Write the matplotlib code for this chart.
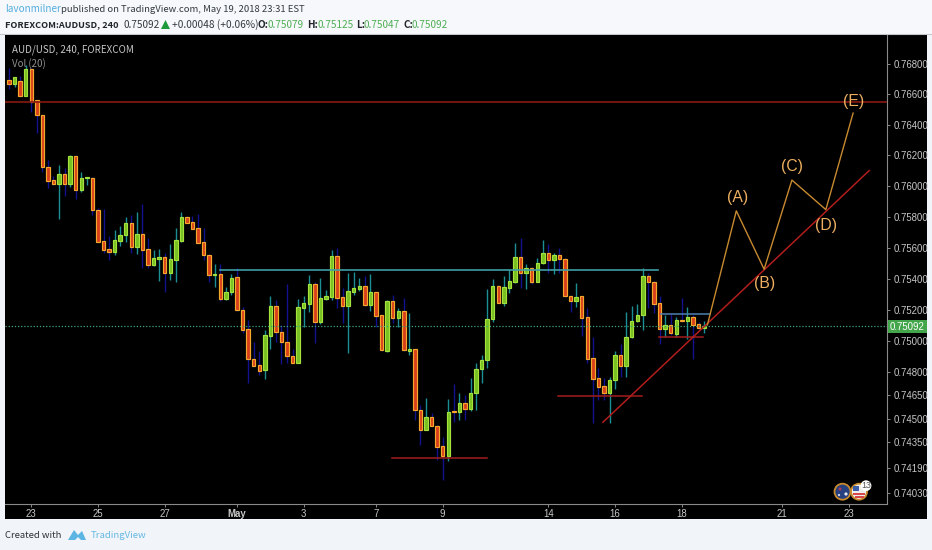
import matplotlib
matplotlib.use("Agg")
import matplotlib.pyplot as plt
from matplotlib.patches import Rectangle, Circle, Polygon
from matplotlib.ticker import FixedLocator, FixedFormatter, NullLocator

W, H = 932, 550

opens = [.76690,.76668,.76685,.76588,.76763,.76558,.76462,.76122,.76038,.76012,.76080,.76012,.76192,.75972,.76050,.76054,.75846,
         .75642,.75589,.75571,.75642,.75679,.75756,.75603,.75687,.75589,.75488,.75529,.75537,.75434,.75520,.75642,.75795,.75763,
         .75724,.75634,.75554,.75423,.75428,.75266,.75312,.75408,.75197,.75073,.74881,.74844,.74811,.75032,.75221,.75056,.74994,
         .74904,.74857,.75212,.75238,.75363,.75122,.75270,.75283,.75544,.75279,.75223,.75315,.75335,.75352,.75228,.75312,.75163,
         .74936,.75253,.75148,.75191,.74937,.74945,.74555,.74431,.74514,.74457,.74325,.74264,.74547,.74542,.74603,.74561,.74663,
         .74817,.74874,.75137,.75352,.75244,.75341,.75378,.75539,.75436,.75468,.75380,.75500,.75567,.75520,.75552,.75528,.75288,
         .75255,.75286,.75150,.74887,.74759,.74708,.74667,.74748,.74908,.74838,.75022,.75126,.75165,.75416,.75380,.75240,.75075,
         .75099,.75043,.75135,.75126,.75150,.75105,.75079]
highs = [.76770,.76711,.76718,.76789,.76770,.76558,.76462,.76169,.76063,.76136,.76115,.76199,.76199,.76089,.76059,.76056,.75855,
         .75853,.75674,.75717,.75739,.75799,.75809,.75831,.75881,.75661,.75584,.75591,.75565,.75623,.75724,.75831,.75803,.75803,
         .75816,.75726,.75558,.75494,.75494,.75346,.75430,.75468,.75218,.75133,.74994,.74936,.75069,.75290,.75261,.75101,.75365,
         .74947,.75266,.75288,.75423,.75380,.75402,.75326,.75584,.75595,.75339,.75434,.75444,.75402,.75419,.75430,.75314,.75165,
         .75261,.75294,.75208,.75273,.75176,.74947,.74589,.74635,.74540,.74459,.74386,.74625,.74723,.74663,.74652,.74759,.74859,
         .74908,.75331,.75395,.75359,.75416,.75460,.75627,.75660,.75494,.75475,.75531,.75648,.75623,.75567,.75595,.75533,.75291,
         .75370,.75288,.75210,.75026,.74823,.74759,.74766,.74934,.74979,.75186,.75223,.75234,.75470,.75436,.75384,.75288,.75165,
         .75171,.75152,.75273,.75214,.75165,.75120,.75125]
lows = [.76634,.76646,.76585,.76585,.76480,.76344,.76091,.75988,.76005,.75785,.75934,.75994,.75914,.75961,.76003,.75809,.75636,
        .75565,.75520,.75554,.75612,.75634,.75565,.75560,.75470,.75468,.75481,.75386,.75315,.75391,.75376,.75636,.75758,.75719,
        .75629,.75520,.75380,.75348,.75255,.75261,.75294,.75191,.75049,.74729,.74835,.74780,.74753,.74947,.74994,.74851,.74855,
        .74854,.74854,.75086,.75186,.74983,.75107,.75261,.75261,.75212,.75112,.74923,.75294,.75322,.75223,.75191,.75090,.74934,
        .74928,.75114,.75090,.74934,.74908,.74493,.74333,.74429,.74454,.74238,.74111,.74232,.74482,.74493,.74493,.74550,.74557,
        .74731,.74827,.75122,.75241,.75223,.75309,.75372,.75337,.75331,.75365,.75375,.75497,.75438,.75430,.75434,.75281,.75186,
        .75214,.75032,.74857,.74471,.74620,.74620,.74471,.74689,.74770,.74770,.75015,.75122,.75069,.75208,.75178,.74979,.75026,
        .75037,.75026,.75120,.75011,.74881,.75075,.75047]
closes = [.76668,.76711,.76588,.76763,.76551,.76460,.76122,.76033,.76014,.76080,.76010,.76192,.75972,.76054,.76056,.75844,.75638,
          .75584,.75571,.75647,.75683,.75756,.75605,.75687,.75584,.75488,.75535,.75536,.75434,.75524,.75647,.75795,.75760,.75721,
          .75631,.75552,.75425,.75430,.75266,.75315,.75406,.75195,.75069,.74881,.74840,.74808,.75035,.75221,.75054,.74990,.74900,
          .74859,.75214,.75240,.75363,.75122,.75273,.75286,.75544,.75277,.75223,.75322,.75337,.75354,.75228,.75312,.75161,.74939,
          .75253,.75148,.75191,.74939,.74944,.74555,.74431,.74514,.74456,.74321,.74264,.74544,.74541,.74603,.74563,.74665,.74819,
          .74876,.75141,.75352,.75244,.75344,.75384,.75539,.75436,.75468,.75380,.75502,.75567,.75520,.75550,.75524,.75286,.75255,
          .75283,.75148,.74885,.74757,.74706,.74667,.74751,.74908,.74838,.75024,.75128,.75167,.75416,.75378,.75238,.75075,.75099,
          .75048,.75135,.75126,.75150,.75101,.75080,.75092]

date_ticks = [4, 16, 28, 41, 53, 66, 78, 97, 109, 121, 139, 151]
date_labels = ["23", "25", "27", "May", "3", "7", "9", "14", "16", "18", "21", "23"]
price_ticks = [.768, .766, .764, .762, .760, .758, .756, .754, .752, .750, .748, .7465, .745, .7435, .7419, .7403]
last_price = .75092

resistance = .7655
neck_x, neck_y = [38, 116.7], [.75457, .75457]
low1_x, low1_y = [68.9, 86], [.74253, .74253]
low2_x, low2_y = [98.7, 113.8], [.74646, .74646]
low3_x, low3_y = [116.9, 124.8], [.75026, .75026]
box_x, box_y = [117.2, 126], [.75170, .75170]
trend_x, trend_y = [106.8, 154.7], [.74478, .76100]
wave_x = [125.6, 130.8, 135.8, 140.8, 146.9, 151.8]
wave_y = [.75101, .75838, .75460, .76038, .75846, .76475]
wave_names = ["(A)", "(B)", "(C)", "(D)", "(E)"]
name_x = [131.0, 135.8, 140.8, 146.9, 151.8]
name_y = [.75923, .75365, .76124, .75745, .7655]

BG = "#f1f4f9"
FONT = ["Noto Sans CJK SC", "DejaVu Sans"]
plt.rcParams["font.family"] = ["Liberation Sans", "DejaVu Sans"]

fig = plt.figure(figsize=(W / 100, H / 100), dpi=100, facecolor=BG)

page = fig.add_axes([0, 0, 1, 1], zorder=0)
page.set_xlim(0, W); page.set_ylim(H, 0); page.axis("off")
page.add_patch(Rectangle((5, 35), 922, 484, fc="black", ec="none"))
page.add_patch(Rectangle((0, 0), W, 34, fc="#f6f8fb", ec="none"))
page.plot([0, W], [33.5, 33.5], color="#c4c6c9", lw=0.8)

ax = fig.add_axes([5 / W, 1 - 504 / H, 882 / W, 469 / H], zorder=1)
ax.set_facecolor("black")
ax.set_yscale("log")
ax.set_xlim(-0.72, 157.9)
ax.set_ylim(.73959, .76988)

xs = list(range(len(opens)))
for i in xs:
    up = closes[i] >= opens[i]
    ax.vlines(i, lows[i], highs[i], color="#1c8f96" if up else "#12128e", lw=1.0, zorder=2)
    lo, hi = min(opens[i], closes[i]), max(opens[i], closes[i])
    ax.bar(i, hi - lo, bottom=lo, width=0.62,
           color="#78bf22" if up else "#d8401c",
           edgecolor="#a6e23c" if up else "#f4a82c", linewidth=0.85, zorder=3)

ax.axhline(last_price, color="#3fa57c", lw=0.9, ls=(0, (1, 1.5)), zorder=4)
ax.axhline(resistance, color="#861a12", lw=1.2, zorder=5)
ax.plot(neck_x, neck_y, color="#3f9ea6", lw=1.2, zorder=5)
ax.plot(box_x, box_y, color="#4d7fb0", lw=1.1, zorder=5)
for lx, ly in ((low1_x, low1_y), (low2_x, low2_y), (low3_x, low3_y)):
    ax.plot(lx, ly, color="#a31c1c", lw=1.1, zorder=5)
ax.plot(trend_x, trend_y, color="#b21d1d", lw=1.1, zorder=5)
ax.plot(wave_x, wave_y, color="#c88a30", lw=1.0, zorder=6)
for nx, ny, s in zip(name_x, name_y, wave_names):
    ax.text(nx, ny, s, color="#eeb060", fontsize=11.3, ha="center", va="center", zorder=7)

for s in ("top", "left"):
    ax.spines[s].set_visible(False)
for s in ("bottom", "right"):
    ax.spines[s].set_color("#8a8a8a"); ax.spines[s].set_linewidth(0.8)

ax.xaxis.set_major_locator(FixedLocator(date_ticks))
ax.xaxis.set_major_formatter(FixedFormatter(date_labels))
ax.xaxis.set_minor_locator(NullLocator())
ax.yaxis.tick_right()
ax.yaxis.set_major_locator(FixedLocator(price_ticks))
ax.yaxis.set_major_formatter(FixedFormatter([f"{p:.5f}" for p in price_ticks]))
ax.yaxis.set_minor_locator(NullLocator())
ax.tick_params(axis="x", colors="#8a8a8a", labelcolor="#c8c8c8", labelsize=6.9, length=2, width=0.7, pad=1.5)
ax.tick_params(axis="y", colors="#8a8a8a", labelcolor="#c8c8c8", labelsize=6.9, length=2, width=0.7, pad=2.5)
for lab in ax.get_xticklabels():
    if lab.get_text() == "May":
        lab.set_fontweight("bold")

top = fig.add_axes([0, 0, 1, 1], zorder=2)
top.set_xlim(0, W); top.set_ylim(H, 0); top.axis("off"); top.patch.set_alpha(0)

top.add_patch(Rectangle((888, 320), 39, 13, fc="#43a64a", ec="none"))
top.text(907.5, 326.6, f"{last_price:.5f}", color="white", fontsize=6.9, ha="center", va="center")

TXT = "#333a40"
hd = dict(family=FONT, va="center")
top.text(5, 9.5, "lavonmilner", color="#54aede", fontsize=7.2, **hd)
top.text(61, 9.5, "published on TradingView.com, May 19, 2018 23:31 EST", color=TXT, fontsize=6.85, **hd)
top.text(5, 24.5, "FOREXCOM:AUDUSD, 240", color="#20262b", fontsize=6.6, weight="bold", **hd)
top.text(123, 24.5, "0.75092", color=TXT, fontsize=7.2, **hd)
top.add_patch(Polygon([[161, 29], [170, 29], [165.5, 20]], fc="#1f9a3a", ec="none"))
top.text(172, 24.5, "+0.00048 (+0.06%)", color=TXT, fontsize=7.3, **hd)
for x, s in ((257, "O:"), (306.7, "H:"), (356, "L:"), (403, "C:")):
    top.text(x, 24.5, s, color="#20262b", fontsize=7.2, weight="bold", **hd)
for x, s in ((267.7, "0.75079"), (317, "0.75125"), (364, "0.75047"), (412, "0.75092")):
    top.text(x, 24.5, s, color="#4fae55", fontsize=7.2, **hd)

top.text(12, 50, "AUD/USD, 240, FOREXCOM", color="#c6c6c6", fontsize=7.05, **hd)
top.text(12, 64, "Vol (20)", color="#8e8e8e", fontsize=7.0, **hd)

top.text(5, 535.5, "Created with", color="#2d3338", fontsize=6.8, **hd)
top.add_patch(Polygon([[68, 540], [74, 530], [78, 535], [82, 531], [86, 540], [81, 540], [78, 537], [75, 540]],
                      fc="#5cb5e2", ec="none"))
top.text(91, 535.5, "TradingView", color="#66b9e2", fontsize=6.9, **hd)

top.add_patch(Circle((842.5, 491.7), 8, fc="#27407f", ec="#c98a2c", lw=1.3))
top.add_patch(Circle((846, 494), 1.6, fc="#e8e8f2", ec="none"))
top.add_patch(Circle((840, 489), 1.5, fc="#b03a50", ec="none"))
top.add_patch(Circle((839, 495), 1.1, fc="#d8d8e8", ec="none"))
top.add_patch(Circle((859, 491.7), 8, fc="#eeeeee", ec="#c98a2c", lw=1.3))
top.add_patch(Rectangle((853, 486), 6, 5, fc="#3c5ea8", ec="none"))
top.add_patch(Rectangle((853, 493), 12, 1.8, fc="#d84848", ec="none"))
top.add_patch(Rectangle((854.5, 496.2), 9, 1.8, fc="#d84848", ec="none"))
top.add_patch(Circle((866, 485.7), 5.4, fc="white", ec="none"))
top.text(866, 485.9, "13", color="#555555", fontsize=6.3, ha="center", va="center")

fig.savefig("out.png", dpi=100, facecolor=BG)
